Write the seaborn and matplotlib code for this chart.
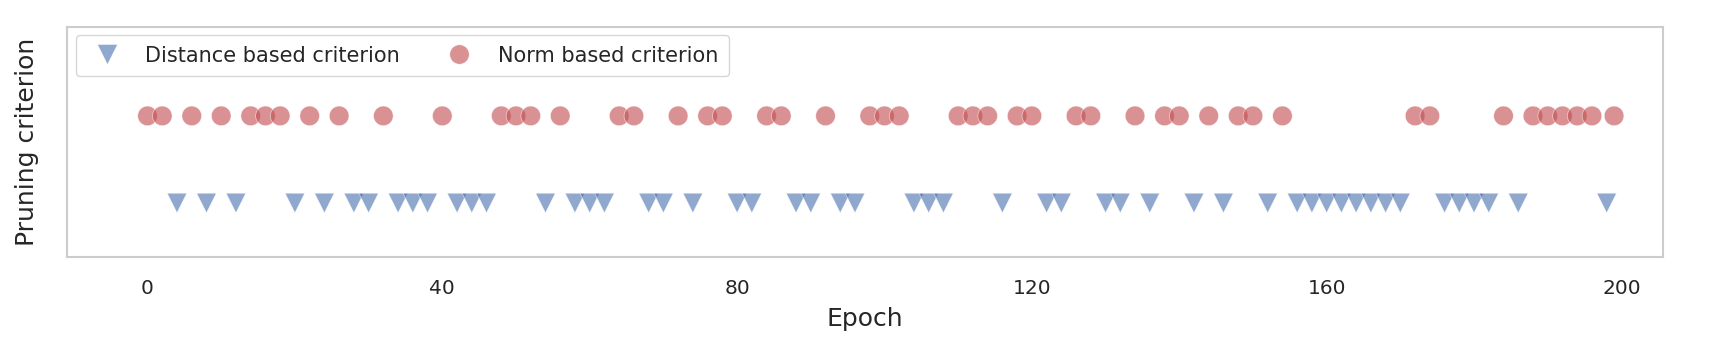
import seaborn as sns
import matplotlib.pyplot as plt
import pandas as pd
from matplotlib.lines import Line2D

# epochs where each pruning criterion was chosen
norm_epochs = [0, 2, 6, 10, 14, 16, 18, 22, 26, 32, 40, 48, 50, 52, 56, 64, 66, 72, 76, 78,
               84, 86, 92, 98, 100, 102, 110, 112, 114, 118, 120, 126, 128, 134, 138, 140,
               144, 148, 150, 154, 172, 174, 184, 188, 190, 192, 194, 196, 199]
distance_epochs = [4, 8, 12, 20, 24, 28, 30, 34, 36, 38, 42, 44, 46, 54, 58, 60, 62, 68, 70,
                   74, 80, 82, 88, 90, 94, 96, 104, 106, 108, 116, 122, 124, 130, 132, 136,
                   142, 146, 152, 156, 158, 160, 162, 164, 166, 168, 170, 176, 178, 180, 182,
                   186, 198]
labels = ["Distance based criterion", "Norm based criterion"]
x_ticks = [0, 40, 80, 120, 160, 200]

df = pd.concat([
    pd.DataFrame({"Epoch": distance_epochs, "level": 0, "Criterion": labels[0]}),
    pd.DataFrame({"Epoch": norm_epochs, "level": 1, "Criterion": labels[1]}),
])

sns.set_style("whitegrid")
plt.rcParams['font.family'] = ['DejaVu Sans']
blue, red = sns.color_palette("deep")[0], sns.color_palette("deep")[3]

fig, ax = plt.subplots(figsize=(17.23, 3.46), dpi=100)
sns.scatterplot(data=df, x="Epoch", y="level", hue="Criterion", style="Criterion",
                palette={labels[0]: blue, labels[1]: red},
                markers={labels[0]: "v", labels[1]: "o"},
                s=200, alpha=0.62, edgecolor="white", linewidth=0.5, legend=False, ax=ax)

ax.grid(False)
for sp in ax.spines.values():
    sp.set_color("#cccccc")
    sp.set_linewidth(1.5)
ax.set_xlim(-10.9, 205.6)
ax.set_ylim(-0.62, 2.02)
ax.set_xticks(x_ticks)
ax.set_yticks([])
ax.tick_params(axis="x", labelsize=14.5, colors="#262626", length=0, pad=16)
ax.set_xlabel("Epoch", fontsize=18, color="#262626", labelpad=6)
ax.set_ylabel("Pruning criterion", fontsize=18, color="#262626", labelpad=20)

handles = [Line2D([], [], marker="v", ls="", color=blue, alpha=0.62, markersize=14,
                  markeredgecolor="white", markeredgewidth=0.5),
           Line2D([], [], marker="o", ls="", color=red, alpha=0.62, markersize=14,
                  markeredgecolor="white", markeredgewidth=0.5)]
leg = ax.legend(handles, labels, loc="upper left", ncol=2, fontsize=15,
                frameon=True, borderaxespad=0.4, borderpad=0.5, columnspacing=1.85,
                handletextpad=0.85)
leg.get_frame().set_edgecolor("#cccccc")
for t in leg.get_texts():
    t.set_color("#262626")

fig.subplots_adjust(left=0.039, right=0.965, top=0.922, bottom=0.257)
fig.savefig("out.png", dpi=100)
